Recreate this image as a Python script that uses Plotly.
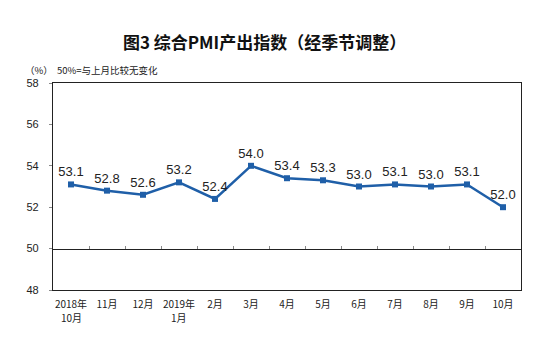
import plotly.graph_objects as go

categories = ["2018年", "11月", "12月", "2019年", "2月", "3月", "4月",
              "5月", "6月", "7月", "8月", "9月", "10月"]
second_line = {0: "10月", 3: "1月"}
values = [53.1, 52.8, 52.6, 53.2, 52.4, 54.0, 53.4, 53.3, 53.0, 53.1, 53.0, 53.1, 52.0]
labels = [f"{v:.1f}" for v in values]
y_ticks = [48, 50, 52, 54, 56, 58]

xs = list(range(len(categories)))
CJK = "Noto Sans CJK SC"

fig = go.Figure()
fig.add_trace(go.Scatter(
    x=xs, y=values, mode="lines+markers+text",
    text=labels, textposition="top center",
    textfont=dict(family="Liberation Sans, Arial", size=13, color="#222222"),
    line=dict(color="#1f5fa8", width=2.5),
    marker=dict(symbol="square", size=6, color="#1f5fa8"),
    showlegend=False, cliponaxis=False,
))
# invisible trace for the 50-line axis
fig.add_trace(go.Scatter(x=[0], y=[50], xaxis="x2", mode="markers",
                         marker=dict(opacity=0), showlegend=False, hoverinfo="skip"))

fig.update_layout(
    width=557, height=341,
    margin=dict(l=53, r=36, t=83, b=51),
    paper_bgcolor="white", plot_bgcolor="white",
    title=dict(text="<b>图3 综合PMI产出指数（经季节调整）</b>", x=0.475, xanchor="center",
               y=0.875, yanchor="middle",
               font=dict(family=CJK, size=17, color="#111111")),
    xaxis=dict(range=[-0.5, len(categories) - 0.5], tickvals=xs, ticktext=categories,
               showline=True, linecolor="#222222", linewidth=1.2, mirror=True,
               ticks="", showgrid=False, zeroline=False, ticklabelstandoff=5,
               tickfont=dict(family=CJK, size=10, color="#222222")),
    xaxis2=dict(range=[-0.5, len(categories) - 0.5], overlaying="x", anchor="free",
                position=0.2, side="bottom", showline=True, linecolor="#222222",
                linewidth=1.2, ticks="inside", ticklen=3, tickcolor="#888888",
                tickvals=[i + 0.5 for i in xs[:-1]], showticklabels=False,
                showgrid=False, zeroline=False),
    yaxis=dict(range=[48, 58], tickvals=y_ticks, showline=True, linecolor="#222222",
               linewidth=1.2, mirror=True, ticks="outside", ticklen=3,
               tickcolor="#888888", showgrid=False, zeroline=False, ticklabelstandoff=8,
               tickfont=dict(family="Liberation Sans, Arial", size=11, color="#222222")),
)
for i, t in second_line.items():
    fig.add_annotation(text=t, xref="x", yref="paper", x=xs[i], y=-0.132,
                       xanchor="center", yanchor="middle", showarrow=False,
                       font=dict(family=CJK, size=10, color="#222222"))
fig.add_annotation(text="（%）  50%=与上月比较无变化", xref="paper", yref="paper",
                   x=-0.065, y=1.065, xanchor="left", yanchor="middle", showarrow=False,
                   font=dict(family=CJK, size=9.5, color="#222222"))

fig.write_html("out.html")
